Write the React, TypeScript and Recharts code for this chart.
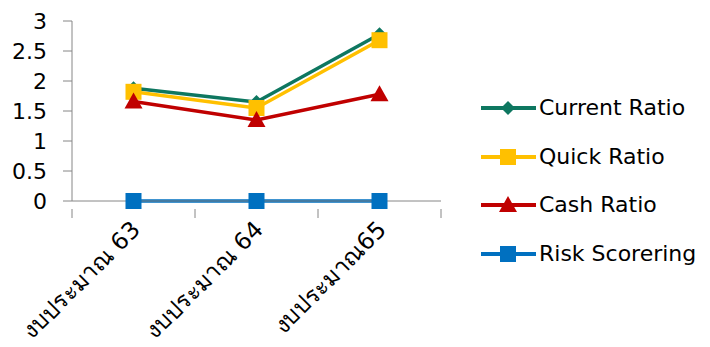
import { LineChart, Line, XAxis, YAxis } from "recharts";

const categories = ["งบประมาณ 63", "งบประมาณ 64", "งบประมาณ65"];
const currentRatio = [1.88, 1.65, 2.78];
const quickRatio = [1.82, 1.55, 2.68];
const cashRatio = [1.66, 1.35, 1.78];
const riskScoring = [0, 0, 0];
const yTicks = [0, 0.5, 1, 1.5, 2, 2.5, 3];

const FONT = "'DejaVu Sans', Verdana, sans-serif";
const AXIS = "#868686";

const series = [
  { key: "current", name: "Current Ratio", color: "#0E7760", shape: "diamond" },
  { key: "quick", name: "Quick Ratio", color: "#FFC000", shape: "square" },
  { key: "cash", name: "Cash Ratio", color: "#C00000", shape: "triangle" },
  { key: "risk", name: "Risk Scorering", color: "#0070C0", shape: "square" },
];

// categories sit at the middle of each slot, so x runs 0..n with points at i + 0.5
const data = categories.map((name, i) => ({
  x: i + 0.5,
  name,
  current: currentRatio[i],
  quick: quickRatio[i],
  cash: cashRatio[i],
  risk: riskScoring[i],
}));

const xTicks: number[] = [];
for (let i = 0; i <= categories.length * 2; i++) xTicks.push(i / 2);

function Marker({ cx, cy, shape, color }: any) {
  if (cx == null || cy == null) return null;
  if (shape === "diamond") {
    const r = 7;
    return <polygon points={`${cx},${cy - r} ${cx + r},${cy} ${cx},${cy + r} ${cx - r},${cy}`} fill={color} />;
  }
  if (shape === "triangle") {
    return <polygon points={`${cx},${cy - 9} ${cx + 9},${cy + 7} ${cx - 9},${cy + 7}`} fill={color} />;
  }
  return <rect x={cx - 8} y={cy - 8} width={16} height={16} fill={color} />;
}

// integer ticks get a short tick line, half ticks carry the rotated category name
function XTick({ x, y, payload }: any) {
  const v = payload.value;
  if (Number.isInteger(v)) {
    return <line x1={x} y1={y} x2={x} y2={y + 9} stroke={AXIS} strokeWidth={1} />;
  }
  const label = categories[Math.floor(v)];
  const ax = x + 8;
  const ay = y + 22;
  return (
    <text
      x={ax}
      y={ay}
      textAnchor="end"
      transform={`rotate(-45, ${ax}, ${ay})`}
      fontFamily={FONT}
      fontSize={23.5}
      fill="#000"
    >
      {label}
    </text>
  );
}

function LegendBox() {
  return (
    <div style={{ position: "absolute", left: 481, top: 84, fontFamily: FONT, fontSize: 22, color: "#000" }}>
      {series.map((s) => (
        <div key={s.key} style={{ display: "flex", alignItems: "center", height: 48.5 }}>
          <svg width={58} height={24} style={{ display: "block" }}>
            <line x1={0} y1={12} x2={55} y2={12} stroke={s.color} strokeWidth={4} />
            <Marker cx={27} cy={12} shape={s.shape} color={s.color} />
          </svg>
          <span style={{ lineHeight: "24px", whiteSpace: "nowrap" }}>{s.name}</span>
        </div>
      ))}
    </div>
  );
}

export default function App() {
  return (
    <div style={{ position: "absolute", left: 0, top: 0, width: 710, height: 347, overflow: "hidden", background: "#fff" }}>
      <LineChart width={710} height={347} data={data} margin={{ top: 21, right: 269, bottom: 0, left: 0 }}>
        <XAxis
          dataKey="x"
          type="number"
          domain={[0, categories.length]}
          ticks={xTicks}
          interval={0}
          tickLine={false}
          axisLine={{ stroke: AXIS }}
          tick={<XTick />}
          height={146}
        />
        <YAxis
          domain={[0, 3]}
          ticks={yTicks}
          interval={0}
          width={72}
          tickSize={9}
          tickMargin={16}
          axisLine={{ stroke: AXIS }}
          tickLine={{ stroke: AXIS }}
          tick={{ fontFamily: FONT, fontSize: 22, fill: "#000" }}
        />
        {series.map((s) => (
          <Line
            key={s.key}
            dataKey={s.key}
            name={s.name}
            stroke={s.color}
            strokeWidth={3.5}
            isAnimationActive={false}
            dot={(p: any) => <Marker key={`${s.key}-${p.index}`} cx={p.cx} cy={p.cy} shape={s.shape} color={s.color} />}
            activeDot={false}
          />
        ))}
      </LineChart>
      <LegendBox />
    </div>
  );
}
